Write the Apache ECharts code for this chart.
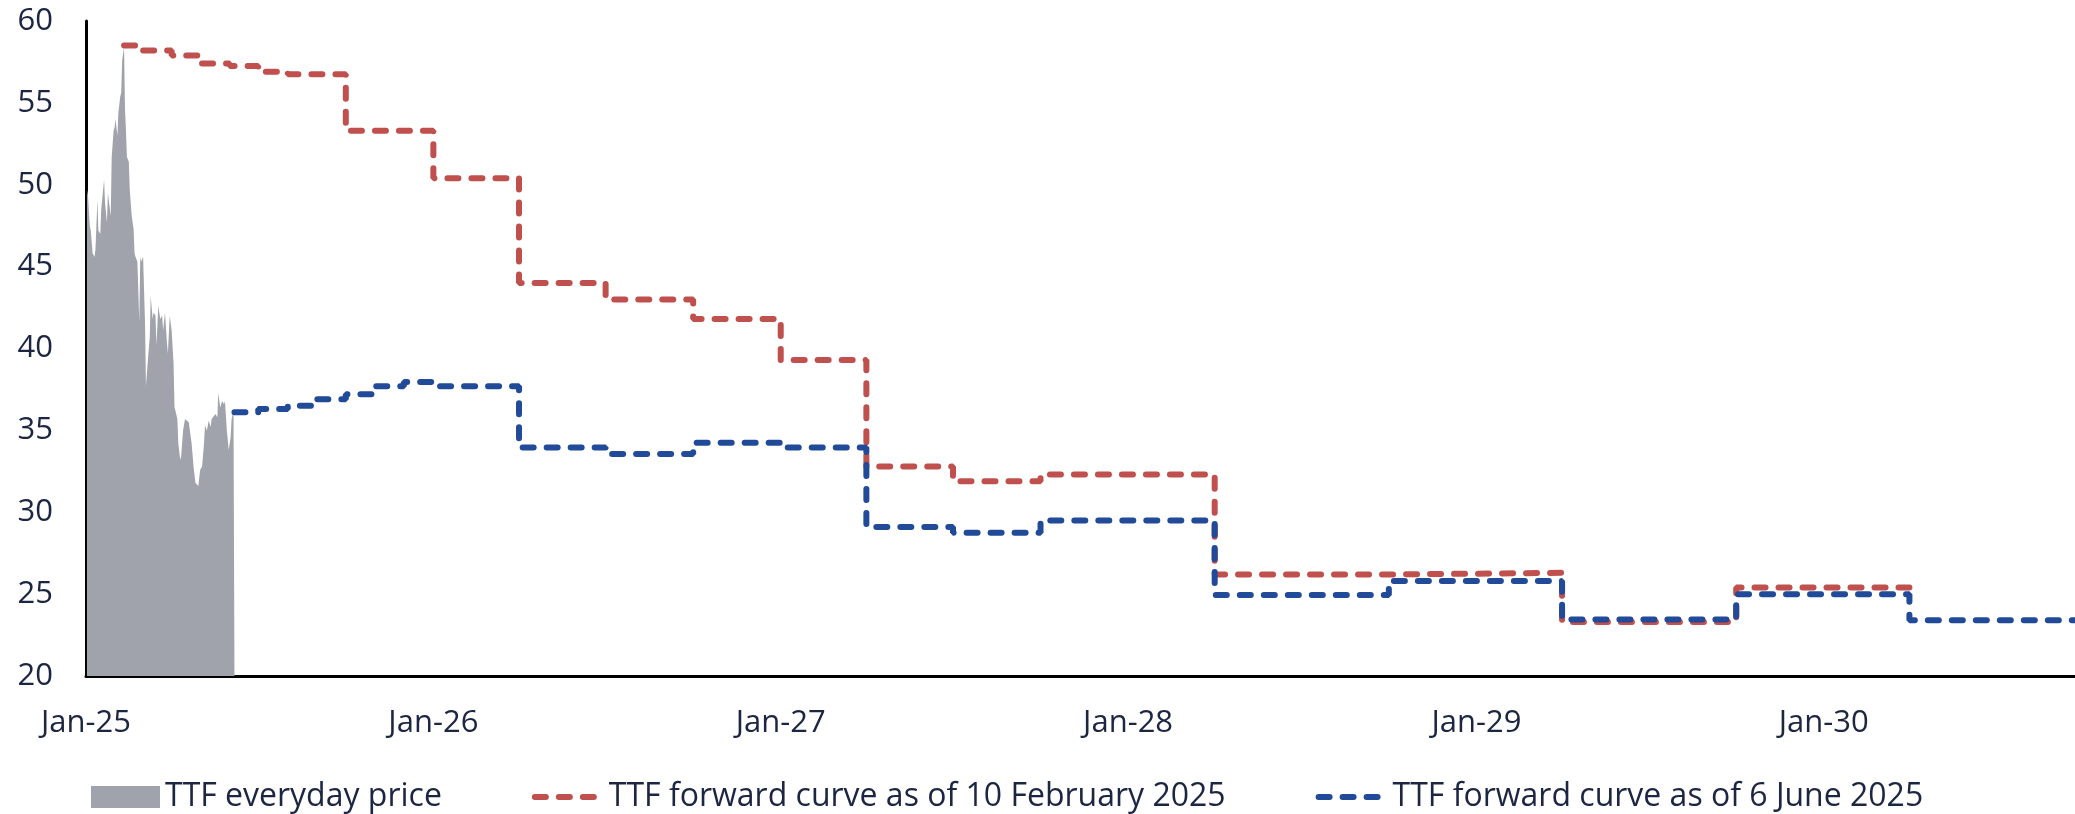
<!DOCTYPE html>
<html>
<head>
<meta charset="utf-8">
<title>TTF price and forward curves</title>
<script src="https://cdn.jsdelivr.net/npm/echarts@6/dist/echarts.min.js"></script>
<style>
  html, body { margin: 0; padding: 0; background: #fff; }
  #chart { width: 2075px; height: 814px; }
</style>
</head>
<body>
<div id="chart"></div>
<script>
// TTF daily price (EUR/MWh), Jan - Jun 2025
const priceDates = [
  '2025-01-02', '2025-01-03', '2025-01-05', '2025-01-06', '2025-01-08', '2025-01-10', '2025-01-11',
  '2025-01-13', '2025-01-14', '2025-01-16', '2025-01-17', '2025-01-19', '2025-01-20', '2025-01-21',
  '2025-01-23', '2025-01-24', '2025-01-25', '2025-01-27', '2025-01-28', '2025-01-30', '2025-01-31',
  '2025-02-01', '2025-02-03', '2025-02-04', '2025-02-06', '2025-02-07', '2025-02-08', '2025-02-10',
  '2025-02-11', '2025-02-12', '2025-02-13', '2025-02-15', '2025-02-16', '2025-02-18', '2025-02-20',
  '2025-02-21', '2025-02-22', '2025-02-24', '2025-02-26', '2025-02-27', '2025-02-28', '2025-03-02',
  '2025-03-04', '2025-03-05', '2025-03-07', '2025-03-09', '2025-03-10', '2025-03-12', '2025-03-13',
  '2025-03-15', '2025-03-16', '2025-03-18', '2025-03-20', '2025-03-22', '2025-03-23', '2025-03-25',
  '2025-03-27', '2025-03-28', '2025-03-30', '2025-04-01', '2025-04-03', '2025-04-04', '2025-04-05',
  '2025-04-07', '2025-04-08', '2025-04-10', '2025-04-11', '2025-04-13', '2025-04-15', '2025-04-17',
  '2025-04-19', '2025-04-21', '2025-04-22', '2025-04-24', '2025-04-26', '2025-04-28', '2025-04-29',
  '2025-05-01', '2025-05-03', '2025-05-05', '2025-05-06', '2025-05-08', '2025-05-10', '2025-05-12',
  '2025-05-13', '2025-05-15', '2025-05-17', '2025-05-19', '2025-05-20', '2025-05-22', '2025-05-24',
  '2025-05-26', '2025-05-27', '2025-05-29', '2025-05-31', '2025-06-02', '2025-06-03', '2025-06-05',
  '2025-06-06'
]
const priceValues = [
  49.7, 49.4, 47.5, 47.2, 45.8, 45.6, 46.1,
  49.1, 47.2, 47.0, 48.5, 48.6, 50.3, 48.9,
  47.7, 49.5, 49.4, 48.1, 51.7, 53.3, 53.5,
  54.0, 53.0, 54.4, 55.4, 55.6, 57.6, 58.4,
  54.6, 53.3, 51.7, 51.4, 49.7, 48.1, 47.3,
  45.8, 45.6, 45.3, 41.6, 45.6, 45.3, 45.6,
  41.6, 37.7, 39.3, 40.7, 43.2, 41.8, 42.2,
  42.0, 40.2, 42.6, 41.8, 42.0, 41.1, 42.2,
  40.4, 39.7, 42.0, 41.1, 39.1, 36.4, 36.2,
  35.7, 34.2, 33.2, 33.4, 35.0, 35.7, 35.6,
  35.5, 35.4, 34.2, 32.8, 31.8, 31.9, 31.6,
  32.6, 32.8, 34.2, 35.3, 35.0, 35.6, 35.2,
  35.7, 35.6, 36.0, 35.8, 37.3, 36.4, 36.8,
  36.6, 36.8, 35.0, 33.8, 34.6, 35.7, 36.2,
  36.1
]

// forward curve as of 10 February 2025 (start of each product period, last entry = end)
const febCurveDates = [
  '2025-02-10', '2025-03-01', '2025-04-01', '2025-05-01', '2025-06-01', '2025-07-01', '2025-08-01',
  '2025-09-01', '2025-10-01', '2026-01-01', '2026-04-01', '2026-07-01', '2026-10-01', '2027-01-01',
  '2027-04-01', '2027-07-01', '2027-10-01', '2028-04-01', '2028-10-01', '2029-04-01', '2029-10-01',
  '2030-04-01'
]
const febCurveValues = [
  58.5, 58.2, 57.9, 57.4, 57.25, 56.9, 56.75,
  56.75, 53.3, 50.4, 44.0, 43.0, 41.8, 39.3,
  32.8, 31.9, 32.3, 26.2, 26.3, 23.3, 25.4,
  25.4
]

// forward curve as of 6 June 2025
const juneCurveDates = [
  '2025-06-06', '2025-07-01', '2025-08-01', '2025-09-01', '2025-10-01', '2025-11-01', '2025-12-01',
  '2026-01-01', '2026-04-01', '2026-07-01', '2026-10-01', '2027-01-01', '2027-04-01', '2027-07-01',
  '2027-10-01', '2028-04-01', '2028-10-01', '2029-04-01', '2029-10-01', '2030-04-01', '2030-10-01'
]
const juneCurveValues = [
  36.1, 36.3, 36.5, 36.9, 37.2, 37.7, 37.95,
  37.7, 33.95, 33.55, 34.25, 33.95, 29.1, 28.75,
  29.5, 24.95, 25.8, 23.45, 25.0, 23.4, 23.4
]

const seriesNames = [
  'TTF everyday price',
  'TTF forward curve as of 10 February 2025',
  'TTF forward curve as of 6 June 2025'
]
const monthLabels = ['Jan', 'Feb', 'Mar', 'Apr', 'May', 'Jun', 'Jul', 'Aug', 'Sep', 'Oct', 'Nov', 'Dec']
const yMin = 20
const yMax = 60
const yStep = 5
const xStart = '2025-01-01'
const xEnd = '2030-09-22'

const GRAY = '#a0a3ab'
const RED = '#c0504d'
const BLUE = '#214b99'
const TEXT = '#1c2541'
const FONT = '"Open Sans", "Noto Sans", sans-serif'
const YEAR = 365 * 24 * 3600 * 1000

function zip(dates, values) {
  return dates.map((d, i) => [d, values[i]])
}

const dashed = { width: 6, type: [11, 13], cap: 'round' }
// hides the circle echarts puts in the middle of a line legend icon
const noSymbol = { color: 'rgba(0,0,0,0)', borderWidth: 0 }

const chart = echarts.init(document.getElementById('chart'), null, { renderer: 'canvas' })
chart.setOption({
  animation: false,
  backgroundColor: '#fff',
  textStyle: { fontFamily: FONT },
  grid: {
    left: 86,
    right: 0,
    top: 21,
    bottom: 138
  },
  legend: {
    left: 86,
    top: 776,
    itemWidth: 69,
    itemHeight: 22,
    itemGap: 90,
    textStyle: {
      fontSize: 32,
      color: TEXT,
      fontFamily: FONT
    },
    data: [
      { name: seriesNames[0], icon: 'rect' },
      { name: seriesNames[1], lineStyle: Object.assign({ color: RED }, dashed), itemStyle: noSymbol },
      { name: seriesNames[2], lineStyle: Object.assign({ color: BLUE }, dashed), itemStyle: noSymbol }
    ]
  },
  xAxis: {
    type: 'time',
    min: xStart,
    max: xEnd,
    minInterval: YEAR,
    maxInterval: YEAR,
    axisLine: { lineStyle: { color: '#000', width: 3 } },
    axisTick: { show: false },
    splitLine: { show: false },
    axisLabel: {
      margin: 32,
      fontSize: 31,
      color: TEXT,
      fontFamily: FONT,
      showMinLabel: true,
      formatter: function(val) {
        const d = new Date(val)
        return monthLabels[d.getMonth()] + '-' + String(d.getFullYear()).slice(2)
      }
    }
  },
  yAxis: {
    type: 'value',
    min: yMin,
    max: yMax,
    interval: yStep,
    axisLine: { show: true, lineStyle: { color: '#000', width: 3 } },
    axisTick: { show: false },
    splitLine: { show: false },
    axisLabel: {
      margin: 33,
      fontSize: 31,
      color: TEXT,
      fontFamily: FONT
    }
  },
  series: [
    {
      name: seriesNames[0],
      type: 'line',
      data: zip(priceDates, priceValues),
      symbol: 'none',
      itemStyle: { color: GRAY },
      lineStyle: { width: 0 },
      areaStyle: { color: GRAY, opacity: 1, origin: 'start' }
    },
    {
      name: seriesNames[1],
      type: 'line',
      step: 'end',
      data: zip(febCurveDates, febCurveValues),
      symbol: 'none',
      itemStyle: { color: RED },
      lineStyle: Object.assign({ color: RED }, dashed)
    },
    {
      name: seriesNames[2],
      type: 'line',
      step: 'end',
      data: zip(juneCurveDates, juneCurveValues),
      symbol: 'none',
      itemStyle: { color: BLUE },
      lineStyle: Object.assign({ color: BLUE }, dashed)
    }
  ]
})
</script>
</body>
</html>
